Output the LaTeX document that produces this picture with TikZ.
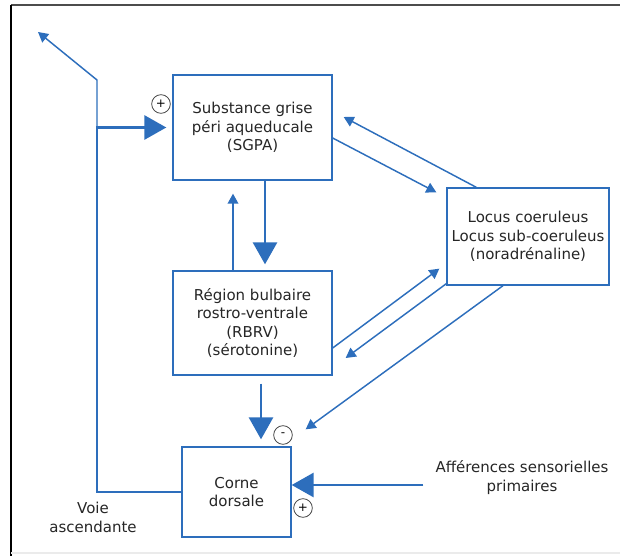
\documentclass[tikz,border=0pt]{standalone}
\usepackage{fontspec}
\setmainfont{DejaVu Sans}
\usepackage{tikz}
\usetikzlibrary{arrows.meta,calc}

\definecolor{voieblue}{RGB}{45,110,188}

\begin{document}
\begin{tikzpicture}[x=0.75pt,y=0.75pt,yscale=-1,xscale=1,
        zone/.style={draw=voieblue, line width=1pt, fill=white, align=center, inner sep=0pt,
            font=\fontsize{11.25}{13.8}\selectfont, text=black!85},
        legende/.style={align=center, inner sep=0pt, font=\fontsize{11.25}{14.2}\selectfont, text=black!85},
        signe/.style={circle, draw=black!75, line width=0.6pt, fill=white, minimum size=14pt, inner sep=0pt,
            font=\fontsize{9}{9}\selectfont},
        fin/.style={voieblue, line width=1.1pt, -{Triangle[length=7.5pt,width=8pt]}},
        fort/.style={voieblue, line width=2.2pt, -{Triangle[length=16.5pt,width=18pt]}}]
        \useasboundingbox (0,0) rectangle (620,556);

        %Straight Lines: frame
        \draw [black!70, line width=1.5pt] (11,5) -- (620,5) ;
        \draw [black, line width=1.2pt] (11,5) -- (11,556) ;
        \draw [black!8, line width=0.8pt] (11,553) -- (620,553) ;

        %Shape: Rectangle
        \node [zone, minimum width=119.25pt, minimum height=78.75pt] (sgpa) at (252.5,127.5) {Substance grise\\péri aqueducale\\(SGPA)};
        %Shape: Rectangle
        \node [zone, minimum width=121.5pt, minimum height=72.75pt] (locus) at (528,236.5) {Locus coeruleus\\Locus sub-coeruleus\\(noradrénaline)};
        %Shape: Rectangle
        \node [zone, minimum width=119.25pt, minimum height=78pt] (rbrv) at (252.5,323) {Région bulbaire\\rostro-ventrale\\(RBRV)\\(sérotonine)};
        %Shape: Rectangle
        \node [zone, minimum width=81.75pt, minimum height=67.5pt] (corne) at (236.5,492) {Corne\\dorsale};

        % Text Node
        \node [legende] (aff) at (522,478) {Afférences sensorielles\\primaires};
        % Text Node
        \node [legende] (voie) at (93,517) {Voie\\ascendante};

        %Shape: Circle
        \node [signe] (plusSgpa) at (161,104) {+};
        \node [signe] (moinsCorne) at (283,435) {-};
        \node [signe] (plusCorne) at (303,508) {+};

        \coordinate (jonction) at (97,127.5);
        \coordinate (coude) at (97,80);
        \coordinate (sortie) at (38,32);

        %Straight Lines
        \draw [fort] ($(sgpa.south)+(12.5,0)$) -- ($(rbrv.north)+(12.5,-6)$) ;
        \draw [fin] ($(rbrv.north)+(-19.5,0)$) -- ($(sgpa.south)+(-19.5,13)$) ;
        %Straight Lines
        \draw [fin] ($(sgpa.east)+(0,10.5)$) -- ($(locus.north west)+(-10,5)$) ;
        \draw [fin] ($(locus.north west)+(30,0)$) -- ($(sgpa.east)+(11,-10.5)$) ;
        %Straight Lines
        \draw [fin] ($(rbrv.east)+(0,25)$) -- ($(locus.south west)+(-7,-17)$) ;
        \draw [fin] ($(locus.south west)+(0,-2)$) -- ($(rbrv.east)+(13,35)$) ;
        %Straight Lines
        \draw [fin] ($(locus.south)+(-25,0)$) -- ($(corne.north east)+(14,-17)$) ;
        \draw [fort] ($(rbrv.south)+(8.5,8)$) -- ($(corne.north)+(24.5,-7)$) ;
        %Straight Lines
        \draw [fort] ($(aff.west)+(-12,7)$) -- ($(corne.east)+(0,-7)$) ;
        %Straight Lines: voie ascendante
        \draw [fort] (corne.west) -| (jonction) -- ($(sgpa.west)+(-6,0)$) ;
        \draw [fin] (jonction) -- (coude) -- (sortie) ;

    \end{tikzpicture}
\end{document}
